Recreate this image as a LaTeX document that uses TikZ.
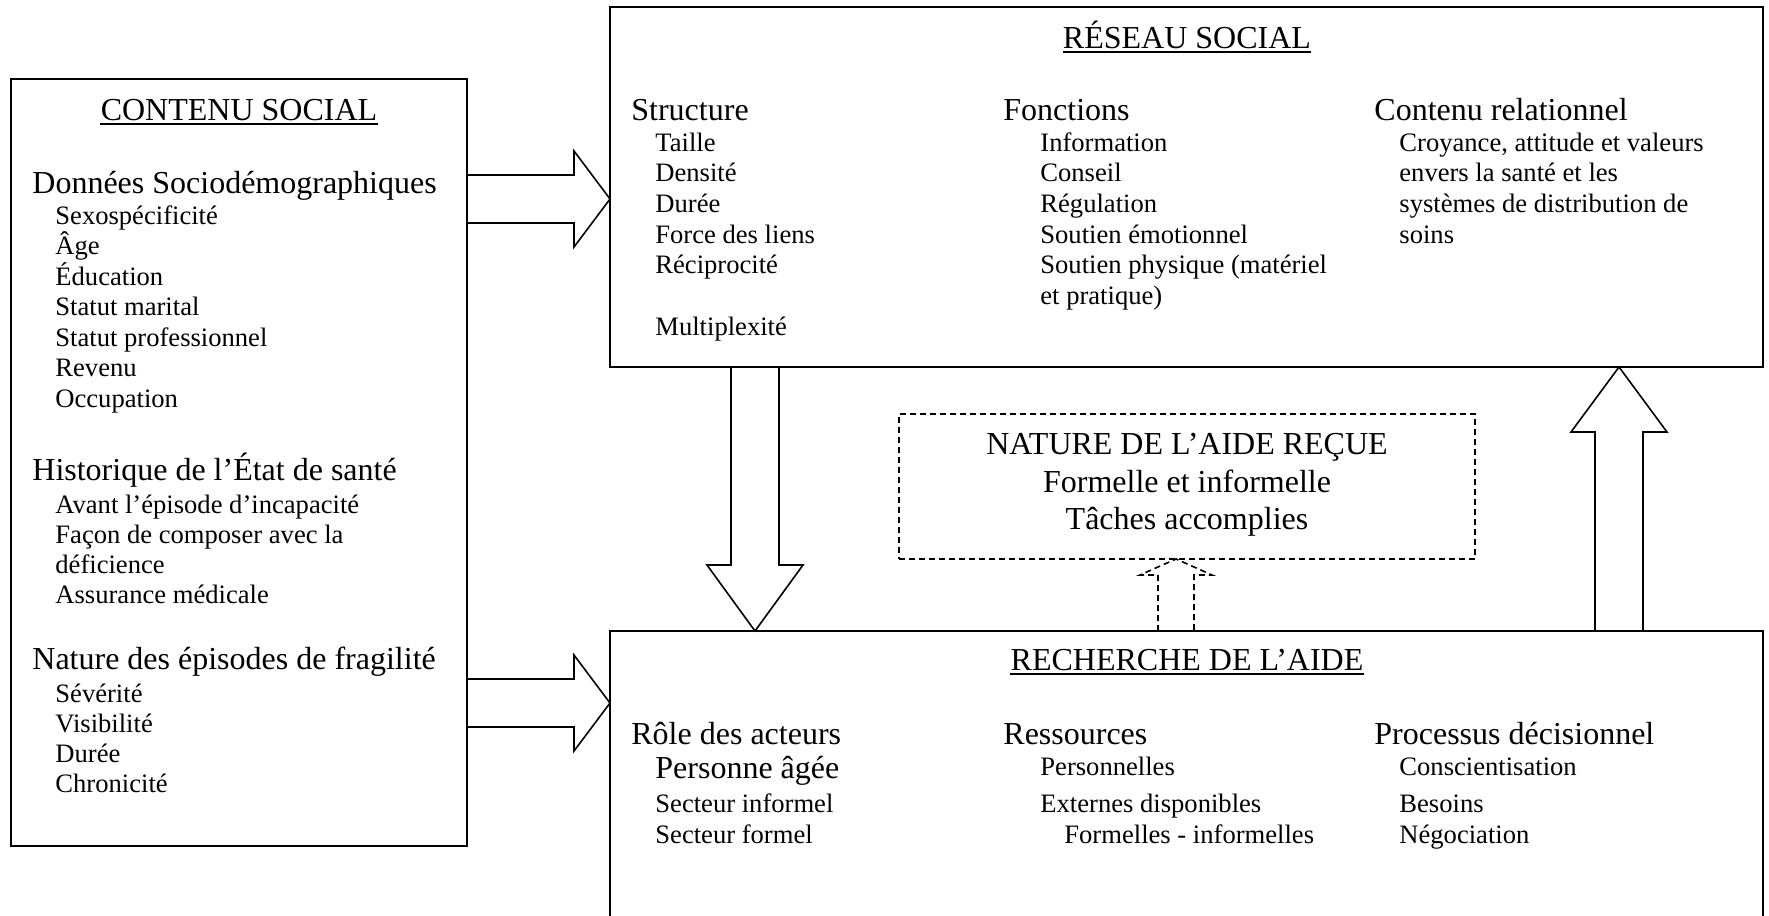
\documentclass[tikz,border=0pt]{standalone}
\usepackage{fontspec}
\setmainfont{Liberation Serif}
\usetikzlibrary{calc,fit,backgrounds}
% horizontal block arrow: #1 style, #2 start, #3 tip
\newcommand\myhblk[3]{\draw[#1] ($(#2)+(0,-24)$) -- ($(#3)+(-36,-24)$) -- ($(#3)+(-36,-48)$) -- (#3) -- ($(#3)+(-36,48)$) -- ($(#3)+(-36,24)$) -- ($(#2)+(0,24)$);}
% vertical block arrow: #1 style, #2 start, #3 tip, #4 shaft half, #5 head half, #6 head offset (signed)
\newcommand\myvblk[6]{\draw[#1] ($(#2)+(-#4,0)$) -- ($(#3)+(-#4,#6)$) -- ($(#3)+(-#5,#6)$) -- (#3) -- ($(#3)+(#5,#6)$) -- ($(#3)+(#4,#6)$) -- ($(#2)+(#4,0)$);}
\begin{document}
\begin{tikzpicture}[x=0.5pt,y=-0.5pt,
  box/.style={draw,line width=1pt,inner sep=0pt,outer sep=0pt},
  dbox/.style={draw,line width=0.9pt,dash pattern=on 3pt off 2pt,inner sep=0pt,outer sep=0pt},
  blk/.style={draw,line width=0.8pt,fill=white,line join=miter},
  dblk/.style={blk,dash pattern=on 3pt off 2pt},
  hd/.style={anchor=base west,inner sep=0pt,font=\fontsize{16}{19}\selectfont},
  it/.style={anchor=base west,inner sep=0pt,font=\fontsize{13.3}{16}\selectfont},
  ttl/.style={anchor=base,inner sep=0pt,font=\fontsize{16}{19}\selectfont},
  uline/.style={line width=0.9pt}]
\useasboundingbox (0,0) rectangle (1769,916);

% boxes
\node[box,fit={(11,79)(467,846)}] (cs) {};
\node[box,fit={(610,7)(1763,367)}] (rs) {};
\node[box,fit={(610,631)(1763,960)}] (rb) {};
\node[dbox,fit={(899,414)(1475,559)}] (nb) {};

% arrows (behind the boxes)
\coordinate (a1s) at (467,199);
\coordinate (a1e) at (rs.west |- a1s);
\coordinate (a2s) at (467,703);
\coordinate (a2e) at (rb.west |- a2s);
\coordinate (d1s) at (755,367);
\coordinate (d1e) at (rb.north -| d1s);
\coordinate (u1s) at (1619,631);
\coordinate (u1e) at (rs.south -| u1s);
\coordinate (n1s) at (1176,631);
\coordinate (n1e) at (nb.south -| n1s);
\begin{pgfonlayer}{background}
\fill[white] (0,0) rectangle (1769,916);
\myhblk{blk}{a1s}{a1e}
\myhblk{blk}{a2s}{a2e}
\myvblk{blk}{d1s}{d1e}{24}{48}{-66}
\myvblk{blk}{u1s}{u1e}{24}{48}{65}
\myvblk{dblk}{n1s}{n1e}{18}{36}{16}
\end{pgfonlayer}

% CONTENU SOCIAL
\node[ttl] (cst) at (239,120) {CONTENU SOCIAL};
\draw[uline] ($(cst.base west)+(0,4)$) -- ($(cst.base east)+(0,4)$);
\node[hd] (cs-h1) at (32,193) {Données Sociodémographiques};
\foreach \t [count=\i] in {Sexospécificité,Âge,Éducation,Statut marital,Statut professionnel,Revenu,Occupation}
  \node[it] (cs-a\i) at (55,{224+30.5*(\i-1)}) {\t};
\node[hd] (cs-h2) at (32,480) {Historique de l’État de santé};
\foreach \t [count=\i] in {Avant l’épisode d’incapacité,Façon de composer avec la,déficience,Assurance médicale}
  \node[it] (cs-b\i) at (55,{513+30*(\i-1)}) {\t};
\node[hd] (cs-h3) at (32,669) {Nature des épisodes de fragilité};
\foreach \t [count=\i] in {Sévérité,Visibilité,Durée,Chronicité}
  \node[it] (cs-c\i) at (55,{702+30.3*(\i-1)}) {\t};

% RESEAU SOCIAL
\node[ttl] (rst) at (1187,48) {RÉSEAU SOCIAL};
\draw[uline] ($(rst.base west)+(0,4)$) -- ($(rst.base east)+(0,4)$);
\node[hd] (rs-h1) at (631,120) {Structure};
\foreach \t [count=\i] in {Taille,Densité,Durée,Force des liens,Réciprocité}
  \node[it] (rs-a\i) at (655,{151+30.7*(\i-1)}) {\t};
\node[it] (rs-a6) at (655,335) {Multiplexité};
\node[hd] (rs-h2) at (1003,120) {Fonctions};
\foreach \t [count=\i] in {Information,Conseil,Régulation,Soutien émotionnel,{Soutien physique (matériel},{et pratique)}}
  \node[it] (rs-b\i) at (1040,{151+30.7*(\i-1)}) {\t};
\node[hd] (rs-h3) at (1374,120) {Contenu relationnel};
\foreach \t [count=\i] in {{Croyance, attitude et valeurs},envers la santé et les,systèmes de distribution de,soins}
  \node[it] (rs-c\i) at (1399,{151+30.7*(\i-1)}) {\t};

% NATURE DE L'AIDE
\node[ttl] (nb-t1) at (1187,454) {NATURE DE L’AIDE REÇUE};
\node[ttl] (nb-t2) at (1187,492) {Formelle et informelle};
\node[ttl] (nb-t3) at (1187,529) {Tâches accomplies};

% RECHERCHE DE L'AIDE
\node[ttl] (rbt) at (1187,670) {RECHERCHE DE L’AIDE};
\draw[uline] ($(rbt.base west)+(0,4)$) -- ($(rbt.base east)+(0,4)$);
\node[hd] (rb-h1) at (631,744) {Rôle des acteurs};
\node[hd] (rb-a1) at (655,778) {Personne âgée};
\node[it] (rb-a2) at (655,812) {Secteur informel};
\node[it] (rb-a3) at (655,843) {Secteur formel};
\node[hd] (rb-h2) at (1003,744) {Ressources};
\node[it] (rb-b1) at (1040,775) {Personnelles};
\node[it] (rb-b2) at (1040,812) {Externes disponibles};
\node[it] (rb-b3) at (1064,843) {Formelles - informelles};
\node[hd] (rb-h3) at (1374,744) {Processus décisionnel};
\node[it] (rb-c1) at (1399,775) {Conscientisation};
\node[it] (rb-c2) at (1399,812) {Besoins};
\node[it] (rb-c3) at (1399,843) {Négociation};
\end{tikzpicture}
\end{document}
